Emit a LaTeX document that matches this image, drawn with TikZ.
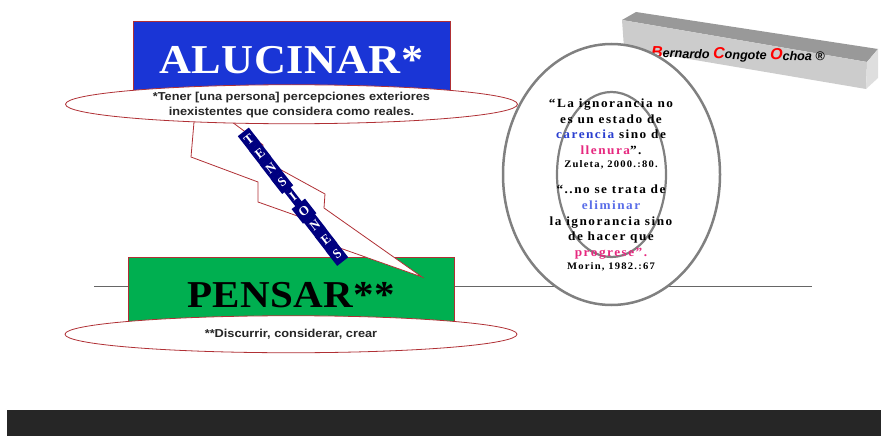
\documentclass[tikz,border=0pt]{standalone}
\usepackage{fontspec}
\setmainfont{Liberation Serif}
\setsansfont{Liberation Sans}
\newfontfamily\quotefont[LetterSpace=12,FakeStretch=1.06]{Liberation Serif}
\newfontfamily\titlefont[LetterSpace=1,FakeStretch=1.08]{Liberation Serif}
\newfontfamily\deffont[FakeStretch=1.11]{Liberation Sans}
\usetikzlibrary{positioning, shapes.geometric, calc}
\definecolor{alublue}{RGB}{26,53,214}
\definecolor{pengreen}{RGB}{0,175,80}
\definecolor{edgered}{RGB}{176,48,53}
\definecolor{navyrib}{RGB}{0,0,128}
\definecolor{quoteblue}{RGB}{42,63,208}
\definecolor{quotelight}{RGB}{90,110,232}
\definecolor{quotepink}{RGB}{230,40,127}

\begin{document}
\begin{tikzpicture}[
    x=1pt, y=-1pt,
    titlebox/.style={rectangle, draw=edgered, line width=0.7pt, inner sep=0pt, font=\titlefont\bfseries\fontsize{41}{41}\selectfont},
    defellipse/.style={ellipse, draw=edgered, fill=white, line width=0.8pt, inner sep=0pt, minimum width=452pt},
    deftext/.style={align=center, inner sep=0pt, text=black!85, font=\deffont\bfseries\fontsize{11.5}{15}\selectfont},
    ringnode/.style={ellipse, draw=black!50, inner sep=0pt},
    quotenode/.style={align=center, inner sep=0pt, font=\quotefont\bfseries\fontsize{12.5}{15.7}\selectfont},
    letterbox/.style={rectangle, fill=navyrib, text=white, inner sep=0pt, minimum height=18.5pt, rotate=38, font=\bfseries\fontsize{13}{13}\selectfont},
    boltline/.style={draw=edgered, fill=white, line width=0.8pt, line join=miter}
]
    \useasboundingbox (0,0) rectangle (881,436);

    % horizon
    \coordinate (lineleft) at (94,286.5);
    \coordinate (lineright) at (812,286.5);
    \draw[black!60, line width=1pt] (lineleft) -- (lineright);

    % signature block
    \fill[black!40] (622,20) -- (636,12) -- (878,49) -- (867,62) -- cycle;
    \fill[black!20] (622,20) -- (867,62) -- (866,89) -- (624,48) -- cycle;
    \fill[black!13] (867,62) -- (878,49) -- (878,78) -- (866,89) -- cycle;
    \node[rotate=-1.2, inner sep=0pt, font=\sffamily\bfseries\itshape\fontsize{12.6}{14}\selectfont] (firma) at (738,55)
        {\textcolor{red}{\fontsize{16}{14}\selectfont B}ernardo \textcolor{red}{\fontsize{16}{14}\selectfont C}ongote \textcolor{red}{\fontsize{16}{14}\selectfont O}choa ®};

    % rings
    \node[ringnode, fill=white, line width=2.5pt, minimum width=217pt, minimum height=261pt] (bigring) at (611.5,174.5) {};
    \node[ringnode, line width=2.2pt, minimum width=109pt, minimum height=165pt] (smallring) at (bigring.center) {};

    % titles
    \node[titlebox, fill=alublue, text=white, minimum width=317pt, minimum height=78pt] (alucinar) at (291.5,60) {\raisebox{-1.5pt}{ALUCINAR*}};
    \node[titlebox, fill=pengreen, text=black, minimum width=326pt, minimum height=77pt, font=\titlefont\bfseries\fontsize{38}{38}\selectfont] (pensar) at (291,295.5) {\raisebox{-1pt}{PENSAR**}};

    % bolt
    \draw[boltline] (194,122) -- (191,157) -- (258,182) -- (258,202) -- (320,224) -- (320,241) -- (422,277)
        -- (324,208) -- (325,194) -- (263,160) -- (263,145) -- (232,122);

    % definitions
    \node[defellipse, minimum height=39pt, below=-15pt of alucinar] (defalucinar) {};
    \node[deftext, yshift=-1pt] (textalucinar) at (defalucinar.center)
        {*Tener [una persona] percepciones exteriores\\inexistentes que considera como reales.};
    \node[defellipse, minimum height=37pt, below=-19pt of pensar] (defpensar) {};
    \node[deftext] (textpensar) at (defpensar.center)
        {**Discurrir, considerar, crear};

    % ribbon
    \coordinate (ribbontop) at (249,139.2);
    \coordinate (ribbonend) at (337,254.3);
    \foreach \l/\w [count=\i from 0] in {T/14,E/14,N/14,S/14,I/8,O/17,N/14,E/14,S/14} {
        \node[letterbox, minimum width=\w pt] (letter\i) at ($(ribbontop)!\i/8!(ribbonend)$) {\l};
    }

    % quotes
    \node[quotenode] (quoteone) at (611,134)
        {“La ignorancia no\\es un estado de\\\textcolor{quoteblue}{carencia} sino de\\\textcolor{quotepink}{llenura}”.\\[-2.5pt]{\fontsize{10}{11}\selectfont Zuleta, 2000.:80.}};
    \node[quotenode, below=15.5pt of quoteone] (quotetwo)
        {“..no se trata de\\\textcolor{quotelight}{eliminar}\\la ignorancia sino\\de hacer que\\\textcolor{quotepink}{progrese”.}\\[-2.5pt]{\fontsize{10}{11}\selectfont Morin, 1982.:67}};

    % footer
    \node[rectangle, fill=black!85, inner sep=0pt, minimum width=874pt, minimum height=26pt, anchor=north west] (footer) at (7,410) {};
\end{tikzpicture}
\end{document}
